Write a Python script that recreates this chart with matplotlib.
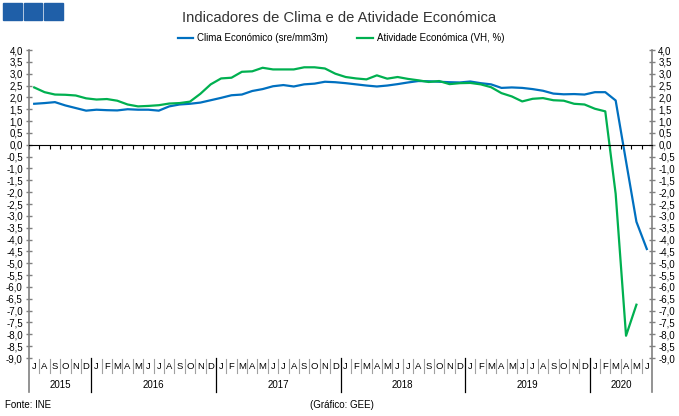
import numpy as np
import matplotlib
matplotlib.use("Agg")
import matplotlib.pyplot as plt
import matplotlib.transforms as mtransforms
from matplotlib.patches import Rectangle

plt.rcParams["font.family"] = ["Liberation Sans", "DejaVu Sans"]

# Jul 2015 .. Jun 2020, monthly
month_letters = list("JASOND") + list("JFMAMJJASOND") * 4 + list("JFMAMJ")
years = ["2015", "2016", "2017", "2018", "2019", "2020"]
year_starts = [0, 6, 18, 30, 42, 54]
year_ends = [6, 18, 30, 42, 54, 60]

clima = [
    1.73, 1.76, 1.80, 1.66, 1.55, 1.44,
    1.48, 1.46, 1.45, 1.50, 1.48, 1.48, 1.44, 1.62, 1.70, 1.73, 1.78, 1.88,
    1.98, 2.09, 2.12, 2.27, 2.35, 2.47, 2.52, 2.46, 2.55, 2.58, 2.66, 2.64,
    2.60, 2.55, 2.50, 2.46, 2.50, 2.56, 2.63, 2.69, 2.68, 2.66, 2.64, 2.63,
    2.67, 2.60, 2.55, 2.40, 2.42, 2.40, 2.35, 2.28, 2.16, 2.13, 2.14, 2.12,
    2.22, 2.22, 1.87, -0.70, -3.25, -4.40,
]
atividade = [
    2.42, 2.22, 2.12, 2.11, 2.08, 1.96,
    1.91, 1.93, 1.86, 1.70, 1.62, 1.64, 1.67, 1.74, 1.76, 1.82, 2.15, 2.55,
    2.80, 2.83, 3.08, 3.10, 3.25, 3.18, 3.18, 3.18, 3.27, 3.27, 3.22, 3.00,
    2.86, 2.80, 2.76, 2.93, 2.79, 2.86, 2.78, 2.72, 2.65, 2.69, 2.56, 2.60,
    2.61, 2.55, 2.43, 2.18, 2.04, 1.83, 1.94, 1.97, 1.88, 1.86, 1.73, 1.70,
    1.52, 1.41, -2.07, -8.06, -6.75, np.nan,
]

blue = "#0070C0"
green = "#00B050"

fig = plt.figure(figsize=(6.79, 4.16), dpi=100)
ax = fig.add_axes([29 / 679, 58 / 416, 623 / 679, 308 / 416])

x = np.arange(len(clima)) + 0.5
ax.plot(x, clima, color=blue, lw=1.6, label="Clima Económico (sre/mm3m)")
ax.plot(x, atividade, color=green, lw=1.6, label="Atividade Económica (VH, %)")

ax.set_xlim(0, 60)
ax.set_ylim(-9, 4)

# y axis, both sides
yt = np.arange(-9, 4.01, 0.5)
ylabels = [f"{v:.1f}".replace(".", ",") for v in yt]
ax.set_yticks(yt)
ax.set_yticklabels(ylabels)
ax.tick_params(axis="y", which="both", left=True, right=True, labelleft=True,
               labelright=True, direction="inout", length=5, width=1,
               color="#808080", labelsize=7, pad=2)

# zero line with month ticks
ax.spines["bottom"].set_position(("data", 0))
ax.spines["bottom"].set_color("black")
ax.set_xticks(np.arange(0, 61))
ax.tick_params(axis="x", direction="out", length=3, color="black",
               labelbottom=False)
ax.spines["top"].set_visible(False)
ax.spines["left"].set_visible(False)
ax.spines["right"].set_visible(False)

# side lines running down through the label area
for xa in (0, 1):
    ax.plot([xa, xa], [1, -0.11], transform=ax.transAxes, color="#808080",
            lw=1.2, clip_on=False)

trans = mtransforms.blended_transform_factory(ax.transData, ax.transAxes)
for i, m in enumerate(month_letters):
    ax.text(i + 0.5, -0.026, m, transform=trans, ha="center", va="center",
            fontsize=6.8)
for b in range(1, 60):
    if b in year_starts:
        ax.plot([b, b], [0, -0.11], transform=trans, color="black", lw=0.9,
                clip_on=False)
    else:
        ax.plot([b, b], [-0.004, -0.048], transform=trans, color="#a0a0a0",
                lw=0.8, clip_on=False)
for y, s, e in zip(years, year_starts, year_ends):
    ax.text((s + e) / 2, -0.088, y, transform=trans, ha="center", va="center",
            fontsize=7)

fig.text(0.5, 1 - 18 / 416, "Indicadores de Clima e de Atividade Económica",
         ha="center", va="center", fontsize=10.6, color="#333333")
fig.legend(loc="center", bbox_to_anchor=(0.502, 1 - 38 / 416), ncol=2,
           frameon=False, fontsize=7, handlelength=1.6, columnspacing=3.0,
           handletextpad=0.4)

for k in range(3):
    fig.patches.append(Rectangle(((3 + 20.5 * k) / 679, 1 - 20 / 416),
                                 18.5 / 679, 17 / 416, transform=fig.transFigure,
                                 color="#1F5FA8", zorder=5))

fig.text(5 / 679, 1 - 405 / 416, "Fonte: INE", fontsize=7, va="center")
fig.text(310 / 679, 1 - 405 / 416, "(Gráfico: GEE)", fontsize=7, va="center")

fig.savefig("out.png", dpi=100)
